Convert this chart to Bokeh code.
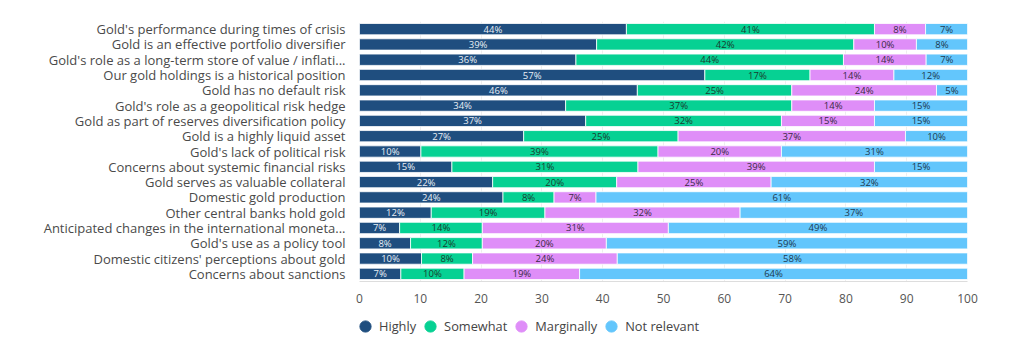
from bokeh.plotting import figure
from bokeh.layouts import column
from bokeh.models import ColumnDataSource, FactorRange, Legend, LegendItem, FixedTicker, Range1d
from bokeh.core.properties import value
from bokeh.embed import file_html
from bokeh.resources import INLINE

categories = [
    "Gold's performance during times of crisis",
    "Gold is an effective portfolio diversifier",
    "Gold's role as a long-term store of value / inflati...",
    "Our gold holdings is a historical position",
    "Gold has no default risk",
    "Gold's role as a geopolitical risk hedge",
    "Gold as part of reserves diversification policy",
    "Gold is a highly liquid asset",
    "Gold's lack of political risk",
    "Concerns about systemic financial risks",
    "Gold serves as valuable collateral",
    "Domestic gold production",
    "Other central banks hold gold",
    "Anticipated changes in the international moneta...",
    "Gold's use as a policy tool",
    "Domestic citizens' perceptions about gold",
    "Concerns about sanctions",
]
highly = [43.9, 39.0, 35.6, 56.8, 45.7, 33.9, 37.2, 27.0, 10.1, 15.2, 21.9, 23.6, 11.8, 6.6, 8.4, 10.2, 6.8]
somewhat = [40.8, 42.3, 44.0, 17.3, 25.4, 37.2, 32.2, 25.4, 39.0, 30.6, 20.4, 8.4, 18.7, 13.6, 11.8, 8.4, 10.4]
marginally = [8.4, 10.3, 13.6, 13.8, 23.8, 13.6, 15.3, 37.4, 20.3, 38.9, 25.4, 6.9, 32.1, 30.6, 20.4, 23.8, 19.0]
not_relevant = [6.9, 8.4, 6.8, 12.1, 5.1, 15.3, 15.3, 10.2, 30.6, 15.3, 32.3, 61.1, 37.4, 49.2, 59.4, 57.6, 63.8]
series_names = ["Highly", "Somewhat", "Marginally", "Not relevant"]
x_ticks = [0, 10, 20, 30, 40, 50, 60, 70, 80, 90, 100]

colors = ["#1f4e7f", "#06d193", "#df8ef8", "#63c6fc"]
text_colors = ["#e8eef5", "#1a3b2f", "#3a2a45", "#1d3a50"]
keys = ["highly", "somewhat", "marginally", "not_relevant"]

data = dict(cat=categories, highly=highly, somewhat=somewhat,
            marginally=marginally, not_relevant=not_relevant)
source = ColumnDataSource(data)

MAIN_H = 312
p = figure(width=1024, height=MAIN_H, output_backend="svg", toolbar_location=None,
           y_range=FactorRange(*list(reversed(categories)), range_padding=0.0),
           x_range=Range1d(0, 100),
           min_border_left=359, min_border_right=57, min_border_top=21,
           min_border_bottom=MAIN_H - 281)
p.y_range.factor_padding = 0.0
p.outline_line_color = None
p.background_fill_color = "white"

p.hbar_stack(keys, y="cat", height=0.74, color=colors, source=source,
             line_color="white", line_width=0.8)

# segment labels
lx, ly, lt, lc = [], [], [], []
for i, cat in enumerate(categories):
    start = 0.0
    vals = [highly[i], somewhat[i], marginally[i], not_relevant[i]]
    for j, v in enumerate(vals):
        lx.append(start + v / 2)
        ly.append(cat)
        lt.append(f"{round(v)}%")
        lc.append(text_colors[j])
        start += v
lsrc = ColumnDataSource(dict(x=lx, y=ly, t=lt, c=lc))
p.text(x="x", y="y", text="t", text_color="c", source=lsrc,
       text_align="center", text_baseline="middle", text_font_size="9.5px",
       text_font=value("Open Sans"))

# axes
p.xaxis.ticker = FixedTicker(ticks=x_ticks)
p.xaxis.major_tick_line_color = None
p.xaxis.minor_tick_line_color = None
p.xaxis.axis_line_color = "#dddddd"
p.xaxis.major_label_text_font = "Open Sans"
p.xaxis.major_label_text_font_size = "12px"
p.xaxis.major_label_text_color = "#555555"
p.xaxis.major_label_standoff = 6

p.yaxis.major_tick_line_color = None
p.yaxis.minor_tick_line_color = None
p.yaxis.axis_line_color = None
p.yaxis.major_label_text_font = "Open Sans"
p.yaxis.major_label_text_font_size = "13px"
p.yaxis.major_label_text_color = "#4a4a4a"
p.yaxis.major_label_standoff = 8

p.xgrid.grid_line_color = "#eeeeee"
p.xgrid.ticker = FixedTicker(ticks=x_ticks)
p.ygrid.grid_line_color = None

# legend strip (separate small figure)
LEG_H = 357 - MAIN_H
lg = figure(width=1024, height=LEG_H, output_backend="svg", toolbar_location=None,
            x_range=Range1d(0, 1), y_range=Range1d(0, 1),
            x_axis_type=None, y_axis_type=None,
            min_border_left=0, min_border_right=0, min_border_top=0, min_border_bottom=0)
lg.outline_line_color = None
lg.xgrid.visible = False
lg.ygrid.visible = False
items = []
for name, col in zip(series_names, colors):
    r = lg.scatter(x=[-5], y=[-5], marker="circle", size=13, color=col)
    items.append(LegendItem(label=name, renderers=[r]))
legend = Legend(items=items, orientation="horizontal", location=(-8, 17),
                border_line_color=None, background_fill_alpha=0,
                label_text_font="Open Sans", label_text_font_size="12.8px",
                label_text_color="#444444", glyph_width=28, glyph_height=28,
                label_standoff=-5, spacing=0, padding=0, margin=0)
lg.add_layout(legend, "center")

layout = column(p, lg, spacing=0)
open("out.html", "w").write(file_html(layout, INLINE))
